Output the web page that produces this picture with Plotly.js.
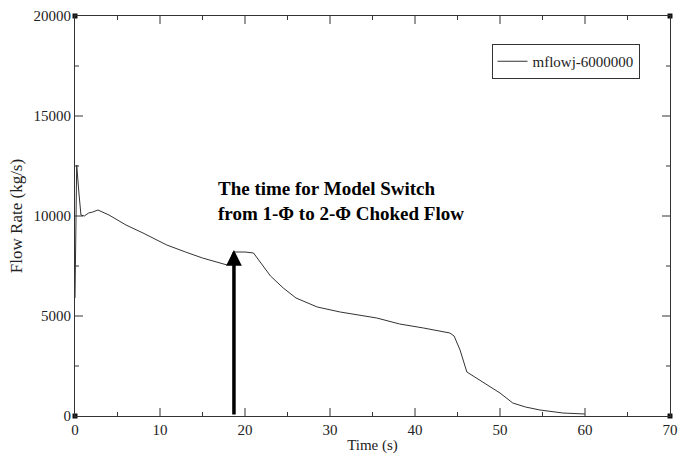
<!DOCTYPE html>
<html>
<head>
<meta charset="utf-8">
<script src="https://cdn.plot.ly/plotly-3.0.1.min.js"></script>
<style>html,body{margin:0;padding:0;background:#fff;}#chart{width:679px;height:455px;}</style>
</head>
<body>
<div id="chart"></div>
<script>
var timeS = [0, 0.1, 0.2, 0.45, 0.7, 1.1, 1.6, 2.1, 2.7, 4, 6, 8, 10.8, 13, 15, 17.9, 18.2, 18.6, 20, 21, 22, 23, 24.5, 26, 28.5, 31.2, 35.5, 38.2, 41, 44.1, 44.6, 45.3, 46.1, 47, 48.5, 50, 51.5, 53, 54.7, 57.4, 60];
var flowRate = [5900, 11000, 12550, 11200, 10050, 10000, 10150, 10200, 10300, 10050, 9550, 9150, 8550, 8200, 7900, 7550, 7700, 8200, 8200, 8150, 7600, 7000, 6400, 5900, 5450, 5200, 4900, 4600, 4400, 4150, 4000, 3300, 2200, 1950, 1550, 1150, 650, 450, 300, 150, 100];
var cornerX = [0, 0, 70, 70];
var cornerY = [0, 20000, 0, 20000];
var xMajorTicks = [10, 20, 30, 40, 50, 60];
var xMinorTicks = [5, 15, 25, 35, 45, 55, 65];
var yMajorTicks = [5000, 10000, 15000];
var yMinorTicks = [2500, 7500, 12500, 17500];
var seriesName = 'mflowj-6000000';
var switchTime = 18.7;
var switchFlow = 8300;
var noteText = 'The time for Model Switch<br>from 1-\u03A6 to 2-\u03A6 Choked Flow';

var serif = 'Liberation Serif, Times New Roman, serif';
var plotW = 679 - 75 - 9, plotH = 455 - 16 - 39;
var majorLen = 8, minorLen = 4;

var shapes = [];
function xTick(v, len) {
  var f = len / plotH;
  shapes.push({type: 'line', xref: 'x', yref: 'paper', x0: v, x1: v, y0: 0, y1: f, line: {color: '#333', width: 1}});
  shapes.push({type: 'line', xref: 'x', yref: 'paper', x0: v, x1: v, y0: 1, y1: 1 - f, line: {color: '#333', width: 1}});
}
function yTick(v, len) {
  var f = len / plotW;
  shapes.push({type: 'line', xref: 'paper', yref: 'y', x0: 0, x1: f, y0: v, y1: v, line: {color: '#333', width: 1}});
  shapes.push({type: 'line', xref: 'paper', yref: 'y', x0: 1, x1: 1 - f, y0: v, y1: v, line: {color: '#333', width: 1}});
}
xMajorTicks.forEach(function (v) { xTick(v, majorLen); });
xMinorTicks.forEach(function (v) { xTick(v, minorLen); });
yMajorTicks.forEach(function (v) { yTick(v, majorLen); });
yMinorTicks.forEach(function (v) { yTick(v, minorLen); });

var traces = [
  {x: timeS, y: flowRate, type: 'scatter', mode: 'lines', name: seriesName,
   line: {color: '#333', width: 1}},
  {x: cornerX, y: cornerY, type: 'scatter', mode: 'markers', showlegend: false,
   marker: {symbol: 'square', size: 5, color: '#111'}, cliponaxis: false, hoverinfo: 'skip'}
];
function axis(extra) {
  var a = {
    showgrid: false, zeroline: false, showline: true, mirror: true, linecolor: '#333', linewidth: 1,
    ticks: '', tickformat: 'd',
    tickfont: {family: serif, size: 15, color: '#222'}
  };
  for (var k in extra) a[k] = extra[k];
  return a;
}
var layout = {
  width: 679, height: 455,
  margin: {l: 75, r: 9, t: 16, b: 39},
  font: {family: serif, color: '#222'},
  xaxis: axis({
    range: [0, 70], dtick: 10, tick0: 0,
    title: {text: 'Time (s)', font: {family: serif, size: 15, color: '#222'}, standoff: 2}
  }),
  yaxis: axis({
    range: [0, 20000], dtick: 5000, tick0: 0,
    title: {text: 'Flow Rate (kg/s)', font: {family: serif, size: 17, color: '#222'}, standoff: 6}
  }),
  shapes: shapes,
  showlegend: true,
  legend: {x: 0.70, y: 0.93, xanchor: 'left', yanchor: 'top', bgcolor: '#fff',
    bordercolor: '#333', borderwidth: 1, font: {family: serif, size: 15, color: '#222'}},
  annotations: [
    {x: switchTime, y: switchFlow, xref: 'x', yref: 'y', ax: switchTime, ay: 0, axref: 'x', ayref: 'y',
     showarrow: true, arrowhead: 2, arrowsize: 0.9, arrowwidth: 3.5, arrowcolor: '#000', text: ''},
    {x: 16.6, y: 11980, xref: 'x', yref: 'y', xanchor: 'left', yanchor: 'top', align: 'left',
     showarrow: false, text: noteText,
     font: {family: serif, size: 19, color: '#000', weight: 'bold'}}
  ]
};
Plotly.newPlot('chart', traces, layout, {displayModeBar: false, staticPlot: true});
</script>
</body>
</html>
